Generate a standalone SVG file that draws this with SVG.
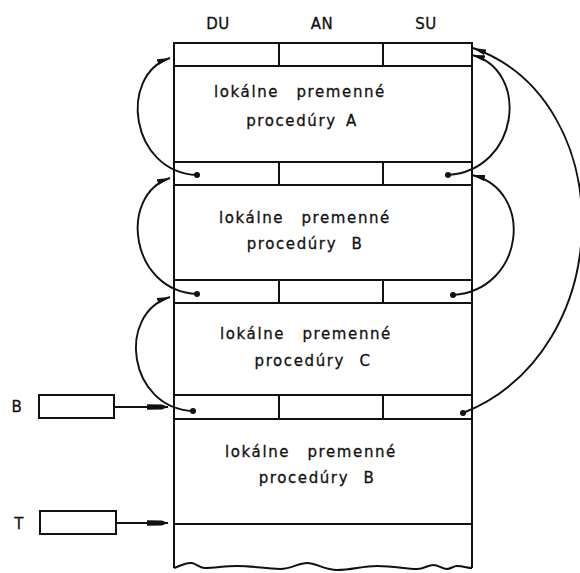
<svg xmlns="http://www.w3.org/2000/svg" width="580" height="573" viewBox="0 0 580 573">
<defs>
<style>
.bg{fill:#ffffff}
.box{fill:none;stroke:#111;stroke-width:2}
.ln{fill:none;stroke:#111;stroke-width:2}
.cv{fill:none;stroke:#111;stroke-width:1.9}
.dot{fill:#111}
.t{font-family:"DejaVu Sans","Liberation Sans",sans-serif;font-size:15px;fill:#111;stroke:#111;stroke-width:0.3;letter-spacing:1.6px;text-anchor:middle}
.w1{word-spacing:11px}
.w2{word-spacing:3px}
.w3{word-spacing:8px}
.h{font-family:"DejaVu Sans","Liberation Sans",sans-serif;font-size:15px;fill:#111;stroke:#111;stroke-width:0.3;text-anchor:middle;letter-spacing:0.5px}
</style>
<marker id="ah" markerUnits="userSpaceOnUse" markerWidth="14" markerHeight="8" refX="13" refY="4" orient="auto">
<path d="M0,1 L13,4 L0,7 z" fill="#111"/>
</marker>
<marker id="ah2" markerUnits="userSpaceOnUse" markerWidth="22" markerHeight="8" refX="21" refY="4" orient="auto">
<path d="M0,1.2 L15,1.6 L21,4 L15,6.4 L0,6.8 z" fill="#111"/>
</marker>
</defs>
<rect class="bg" x="0" y="0" width="580" height="573"/>

<g id="columns">
<text class="h" x="218" y="29">DU</text>
<text class="h" x="322" y="29">AN</text>
<text class="h" x="426" y="29">SU</text>
</g>

<g id="frame-A">
<rect class="box" x="174" y="43" width="298" height="119"/>
<line class="ln" x1="174" y1="66" x2="472" y2="66"/>
<line class="ln" x1="279" y1="43" x2="279" y2="66"/>
<line class="ln" x1="383" y1="43" x2="383" y2="66"/>
<text class="t w1" x="300" y="97">lokálne premenné</text>
<text class="t w2" x="302" y="126">procedúry A</text>
</g>

<g id="frame-B1">
<rect class="box" x="174" y="162" width="298" height="118"/>
<line class="ln" x1="174" y1="185" x2="472" y2="185"/>
<line class="ln" x1="279" y1="162" x2="279" y2="185"/>
<line class="ln" x1="383" y1="162" x2="383" y2="185"/>
<text class="t w1" x="305" y="223">lokálne premenné</text>
<text class="t w3" x="305" y="249">procedúry B</text>
</g>

<g id="frame-C">
<rect class="box" x="174" y="280" width="298" height="115"/>
<line class="ln" x1="174" y1="303" x2="472" y2="303"/>
<line class="ln" x1="279" y1="280" x2="279" y2="303"/>
<line class="ln" x1="383" y1="280" x2="383" y2="303"/>
<text class="t w1" x="306" y="339">lokálne premenné</text>
<text class="t w3" x="313" y="366">procedúry C</text>
</g>

<g id="frame-B2">
<rect class="box" x="174" y="395" width="298" height="129"/>
<line class="ln" x1="174" y1="419" x2="472" y2="419"/>
<line class="ln" x1="279" y1="395" x2="279" y2="419"/>
<line class="ln" x1="383" y1="395" x2="383" y2="419"/>
<text class="t w1" x="311" y="457">lokálne premenné</text>
<text class="t w3" x="317" y="483">procedúry B</text>
</g>

<g id="free-area">
<line class="ln" x1="174" y1="524" x2="174" y2="568"/>
<line class="ln" x1="472" y1="524" x2="472" y2="568"/>
<path class="ln" d="M174,568 C180,566 186,562 192,563 C197,564 200,568 205,568 C215,568 225,566 237,566 C255,566 265,569 280,569 C292,569 298,563 307,563 C316,563 325,570 337,570 C352,570 362,566 377,566 C395,566 405,569 417,569 C424,569 428,565 433,565 C439,565 442,569 447,569 C451,569 453,566 457,566 C463,566 468,568 472,568"/>
</g>

<g id="reg-B">
<text class="h" x="17" y="412">B</text>
<rect class="box" x="39" y="395" width="75" height="23"/>
</g>

<g id="reg-T">
<text class="h" x="19" y="529">T</text>
<rect class="box" x="40" y="511" width="76" height="23"/>
</g>

<g id="connectors">
<path class="cv" d="M197,175 C130,172 118,75 170,58" marker-end="url(#ah)"/>
<path class="cv" d="M197,294 C130,291 118,195 170,178" marker-end="url(#ah)"/>
<path class="cv" d="M193,411 C128,408 116,314 170,297" marker-end="url(#ah)"/>
<path class="cv" d="M448,175 C520,170 530,70 472,55" marker-end="url(#ah)"/>
<path class="cv" d="M453,295 C525,290 535,190 472,175" marker-end="url(#ah)"/>
<path class="cv" d="M463,413 C620,350 620,100 473,48" marker-end="url(#ah)"/>
<line class="cv" x1="114" y1="407" x2="168" y2="407" marker-end="url(#ah2)"/>
<line class="cv" x1="116" y1="523" x2="168" y2="523" marker-end="url(#ah2)"/>
<circle class="dot" cx="197" cy="175" r="3"/>
<circle class="dot" cx="197" cy="294" r="3"/>
<circle class="dot" cx="193" cy="411" r="3"/>
<circle class="dot" cx="448" cy="175" r="3"/>
<circle class="dot" cx="453" cy="295" r="3"/>
<circle class="dot" cx="463" cy="413" r="3"/>
</g>
</svg>
